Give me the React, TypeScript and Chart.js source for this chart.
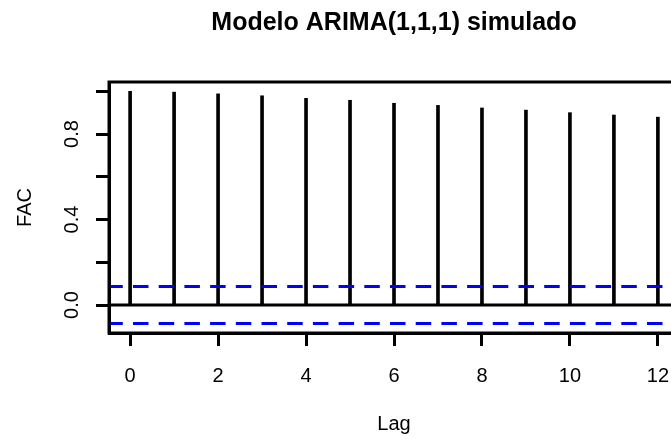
import React, { useEffect, useRef } from 'react';
import { Chart, registerables } from 'chart.js';

Chart.register(...registerables);

const chartTitle = 'Modelo ARIMA(1,1,1) simulado';
const xTitle = 'Lag';
const yTitle = 'FAC';
const lags = [0, 1, 2, 3, 4, 5, 6, 7, 8, 9, 10, 11, 12];
const acfValues = [1.0, 0.996, 0.988, 0.979, 0.967, 0.958, 0.944, 0.934, 0.922, 0.912, 0.9, 0.889, 0.879];
const ciBound = 0.087;
const yLabeledTicks = [0, 0.4, 0.8];
const xRange = [-0.48, 12.48];
const yRange = [-0.131, 1.0435];

const FONT = 'Liberation Sans, Arial, sans-serif';

export default function App() {
  const ref = useRef<HTMLCanvasElement>(null);

  useEffect(() => {
    if (!ref.current) return;
    const boxPlugin = {
      id: 'boxPlugin',
      afterDraw(chart: any) {
        const { ctx, chartArea } = chart;
        ctx.save();
        ctx.strokeStyle = '#000';
        ctx.lineWidth = 3;
        ctx.strokeRect(chartArea.left, chartArea.top, chartArea.right - chartArea.left, chartArea.bottom - chartArea.top);
        ctx.restore();
      },
    };
    const chart = new Chart(ref.current, {
      type: 'bar',
      data: {
        datasets: [
          {
            type: 'line',
            data: [{ x: xRange[0], y: ciBound }, { x: xRange[1], y: ciBound }],
            borderColor: '#0000FF',
            borderWidth: 3,
            borderDash: [15.5, 10.2],
            borderDashOffset: 1.7,
            pointRadius: 0,
            order: 0,
          } as any,
          {
            type: 'line',
            data: [{ x: xRange[0], y: -ciBound }, { x: xRange[1], y: -ciBound }],
            borderColor: '#0000FF',
            borderWidth: 3,
            borderDash: [15.5, 10.2],
            borderDashOffset: 1.7,
            pointRadius: 0,
            order: 0,
          } as any,
          {
            type: 'line',
            data: [{ x: xRange[0], y: 0 }, { x: xRange[1], y: 0 }],
            borderColor: '#000',
            borderWidth: 3,
            pointRadius: 0,
            order: 1,
          } as any,
          {
            type: 'bar',
            data: lags.map((l, i) => ({ x: l, y: acfValues[i] })),
            backgroundColor: '#000',
            barThickness: 3,
            order: 2,
          } as any,
        ],
      },
      options: {
        responsive: false,
        animation: false,
        devicePixelRatio: 1,
        layout: { padding: 0 },
        plugins: {
          legend: { display: false },
          tooltip: { enabled: false },
          title: {
            display: true,
            text: chartTitle,
            color: '#000',
            font: { family: FONT, size: 25, weight: 'bold' },
            padding: { top: 8.5, bottom: 43.5 },
          },
        },
        scales: {
          x: {
            type: 'linear',
            position: 'bottom',
            min: xRange[0],
            max: xRange[1],
            offset: false,
            ticks: {
              stepSize: 2,
              includeBounds: false,
              autoSkip: false,
              maxRotation: 0,
              color: '#000',
              padding: 18,
              font: { family: FONT, size: 20 },
              callback: (v: any) => String(v),
            },
            grid: {
              offset: false,
              drawOnChartArea: false,
              drawTicks: true,
              tickLength: 13,
              tickWidth: 3,
              tickColor: '#000',
            },
            border: { display: true, color: '#000', width: 3 },
            title: {
              display: true,
              text: xTitle,
              color: '#000',
              font: { family: FONT, size: 20 },
              padding: { top: 0, bottom: 3 },
            },
            afterFit: (s: any) => {
              s.height = 106;
            },
          },
          y: {
            type: 'linear',
            position: 'left',
            min: yRange[0],
            max: yRange[1],
            ticks: {
              stepSize: 0.2,
              includeBounds: false,
              autoSkip: false,
              minRotation: 90,
              maxRotation: 90,
              crossAlign: 'center',
              color: '#000',
              padding: 10,
              font: { family: FONT, size: 20 },
              callback: (v: any) =>
                yLabeledTicks.some((t) => Math.abs(t - Number(v)) < 1e-9) ? Number(v).toFixed(1) : '',
            },
            grid: {
              drawOnChartArea: false,
              drawTicks: true,
              tickLength: 13,
              tickWidth: 3,
              tickColor: '#000',
            },
            border: { display: true, color: '#000', width: 3 },
            title: {
              display: true,
              text: yTitle,
              color: '#000',
              font: { family: FONT, size: 20 },
              padding: { top: 13, bottom: 0 },
            },
            afterFit: (s: any) => {
              s.width = 109;
            },
          },
          yR: {
            type: 'linear',
            position: 'right',
            display: true,
            grid: { display: false },
            border: { display: false },
            ticks: { display: false },
            afterFit: (s: any) => {
              s.width = 109;
            },
          },
        },
      } as any,
      plugins: [boxPlugin],
    });
    return () => chart.destroy();
  }, []);

  return (
    <div
      style={{
        position: 'fixed',
        left: 0,
        top: 0,
        width: 671,
        height: 439,
        overflow: 'hidden',
        background: '#fff',
      }}
    >
      <canvas ref={ref} width={788} height={439} style={{ display: 'block', width: 788, height: 439 }} />
    </div>
  );
}
